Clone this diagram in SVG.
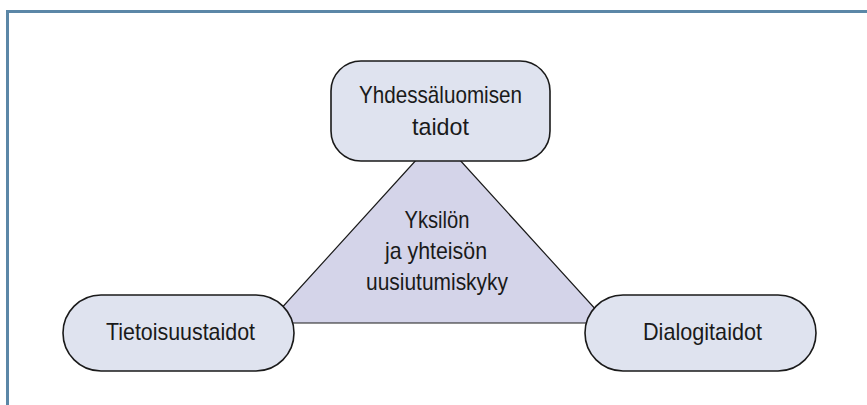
<svg xmlns="http://www.w3.org/2000/svg" width="867" height="405" viewBox="0 0 867 405">
  <style>
    .frame { fill: none; stroke: #5b87a7; stroke-width: 3; }
    .box { fill: #dfe3ef; stroke: #1a1a1a; stroke-width: 1.6; }
    .core { fill: #d4d4e9; stroke: #1a1a1a; stroke-width: 1.2; stroke-linejoin: miter; }
    .lbl { font-family: "Liberation Sans", Arial, sans-serif; font-size: 24px; fill: #1a1a1a; text-anchor: middle; }
  </style>

  <rect width="867" height="405" fill="#ffffff"/>
  <!-- open frame: top and left rules only -->
  <path class="frame" d="M7.5 405 V11.5 H867"/>

  <!-- central triangle -->
  <g id="core">
    <polygon class="core" points="438,136 268,323 608,323"/>
    <text class="lbl" x="437" y="228" textLength="65" lengthAdjust="spacingAndGlyphs">Yksilön</text>
    <text class="lbl" x="436" y="259" textLength="102" lengthAdjust="spacingAndGlyphs">ja yhteisön</text>
    <text class="lbl" x="437" y="290" textLength="142" lengthAdjust="spacingAndGlyphs">uusiutumiskyky</text>
  </g>

  <g id="yhdessaluominen">
    <rect class="box" x="331" y="61" width="219" height="100" rx="30"/>
    <text class="lbl" x="440.5" y="103" textLength="163" lengthAdjust="spacingAndGlyphs">Yhdessäluomisen</text>
    <text class="lbl" x="440.5" y="135" textLength="57" lengthAdjust="spacingAndGlyphs">taidot</text>
  </g>

  <g id="tietoisuus">
    <rect class="box" x="63" y="295" width="231" height="76" rx="38"/>
    <text class="lbl" x="180.5" y="340" textLength="149" lengthAdjust="spacingAndGlyphs">Tietoisuustaidot</text>
  </g>

  <g id="dialogi">
    <rect class="box" x="585" y="295" width="231" height="76" rx="38"/>
    <text class="lbl" x="702.5" y="340" textLength="119" lengthAdjust="spacingAndGlyphs">Dialogitaidot</text>
  </g>
</svg>
